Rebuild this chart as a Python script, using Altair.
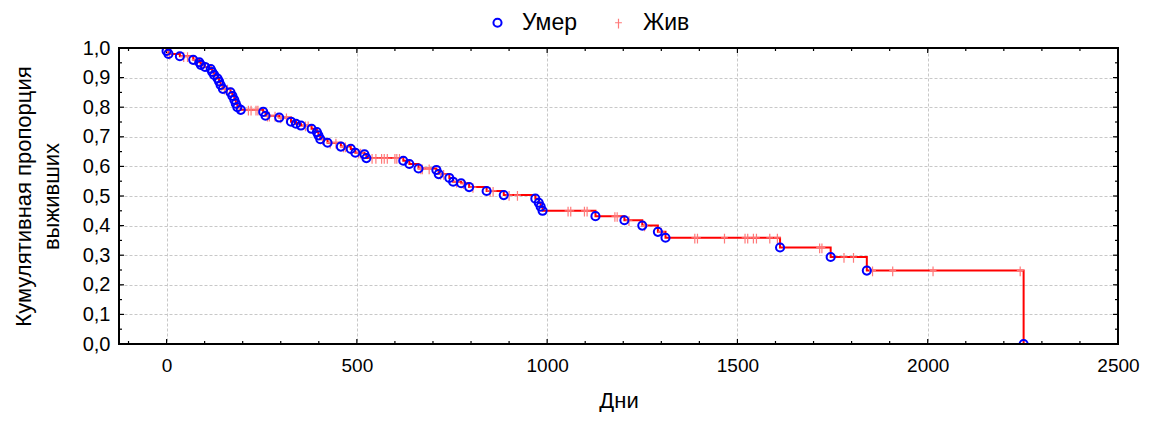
import altair as alt
import pandas as pd

# ---- data ----
death_days = [0, 5, 35, 70, 86, 90, 101, 116, 120, 125, 134, 138, 142, 148, 168, 173, 178,
              182, 186, 195, 254, 260, 296, 327, 340, 353, 381, 395, 399, 404, 423, 458, 484,
              496, 520, 525, 622, 638, 662, 709, 715, 743, 753, 774, 795, 841, 886, 969, 978,
              983, 988, 1127, 1203, 1250, 1291, 1311, 1612, 1745, 1840, 2252]
death_surv = [0.990, 0.980, 0.972, 0.960, 0.952, 0.943, 0.936, 0.929, 0.919, 0.909, 0.897,
              0.887, 0.875, 0.862, 0.850, 0.838, 0.825, 0.812, 0.800, 0.791, 0.784, 0.771,
              0.765, 0.751, 0.744, 0.738, 0.727, 0.716, 0.705, 0.692, 0.680, 0.667, 0.659,
              0.646, 0.641, 0.628, 0.619, 0.608, 0.593, 0.588, 0.574, 0.561, 0.548, 0.543,
              0.530, 0.517, 0.503, 0.491, 0.477, 0.464, 0.450, 0.432, 0.418, 0.400, 0.379,
              0.359, 0.326, 0.294, 0.248, 0.0]
censor_days = [3, 8, 45, 55, 75, 95, 110, 128, 145, 152, 160, 190, 215, 222, 235, 240, 265,
               270, 285, 300, 315, 365, 372, 410, 430, 445, 465, 470, 505, 510, 540, 550, 565,
               572, 580, 600, 605, 612, 668, 672, 690, 720, 728, 762, 780, 805, 850, 858, 900,
               922, 1055, 1062, 1098, 1105, 1178, 1184, 1215, 1256, 1300, 1388, 1395, 1466,
               1520, 1527, 1542, 1550, 1585, 1605, 1716, 1722, 1780, 1805, 1855, 1908, 2014,
               2243]

x_major = [0, 500, 1000, 1500, 2000, 2500]
x_minor = [-100, 100, 200, 300, 400, 600, 700, 800, 900, 1100, 1200, 1300, 1400, 1600, 1700,
           1800, 1900, 2100, 2200, 2300, 2400]
y_major = [0.0, 0.1, 0.2, 0.3, 0.4, 0.5, 0.6, 0.7, 0.8, 0.9, 1.0]
y_minor = [0.05, 0.15, 0.25, 0.35, 0.45, 0.55, 0.65, 0.75, 0.85, 0.95]

labels = ["Умер", "Жив"]

# ---- tables ----
curve = pd.DataFrame({"day": [0] + death_days, "surv": [1.0] + death_surv})
curve["idx"] = range(len(curve))

def surv_at(t):
    s = 1.0
    for d, v in zip(death_days, death_surv):
        if d <= t:
            s = v
    return s

pts = pd.DataFrame({
    "day": censor_days + death_days,
    "surv": [surv_at(t) for t in censor_days] + death_surv,
    "status": [labels[1]] * len(censor_days) + [labels[0]] * len(death_days),
})

W, H = 999, 296
FONT = "Liberation Sans"
xscale = alt.Scale(domain=[-125, 2500], nice=False, zero=False)
yscale = alt.Scale(domain=[0, 1], nice=False, zero=False)

xaxis = alt.Axis(
    values=x_major, format="d", grid=True, gridColor="#c8c8c8", gridDash=[3, 2], gridWidth=1,
    ticks=False, domain=False, labelFontSize=19, labelFont=FONT, labelColor="black",
    labelPadding=12, labelFlush=False, labelOverlap=False, title="Дни", titleFontSize=22,
    titleFont=FONT, titleFontWeight="normal", titleColor="black", titlePadding=15)
yaxis = alt.Axis(
    values=y_major, grid=True, gridColor="#c8c8c8", gridDash=[3, 2], gridWidth=1,
    ticks=False, domain=False, labelFontSize=20, labelFont=FONT, labelColor="black",
    labelPadding=9, labelFlush=False, labelOverlap=False,
    labelExpr="replace(format(datum.value, '.1f'), '.', ',')",
    title=["Кумулятивная пропорция", "выживших"], titleFontSize=22, titleFont=FONT,
    titleFontWeight="normal", titleColor="black", titlePadding=19, titleLineHeight=28)

X = alt.X("day:Q", scale=xscale, axis=xaxis)
Y = alt.Y("surv:Q", scale=yscale, axis=yaxis)

cross = "M-0.6,0L0.6,0M0,-0.7L0,1"

line = alt.Chart(curve).mark_line(color="#ff0000", strokeWidth=2, interpolate="step-after", clip=True).encode(
    x=X, y=Y, order="idx:Q",
)

points = alt.Chart(pts).mark_point(filled=False, clip=True, opacity=1).encode(
    x=X, y=Y,
    color=alt.Color("status:N", scale=alt.Scale(domain=labels, range=["#0000ff", "#ff7a7a"]),
                    legend=alt.Legend(orient="none", legendX=367, legendY=-37, direction="horizontal",
                                      title=None, labelFontSize=23, labelFont=FONT,
                                      labelColor="black", symbolStrokeWidth=2, symbolSize=50,
                                      symbolOpacity=1, columnPadding=30, labelOffset=13)),
    shape=alt.Shape("status:N", scale=alt.Scale(domain=labels, range=["circle", cross])),
    size=alt.Size("status:N", scale=alt.Scale(domain=labels, range=[66, 130]), legend=None),
    strokeWidth=alt.StrokeWidth("status:N", scale=alt.Scale(domain=labels, range=[2, 1.2]), legend=None),
)

xmaj = pd.DataFrame({"day": x_major[:-1]})
xmin = pd.DataFrame({"day": x_minor})
ymaj = pd.DataFrame({"surv": y_major[1:-1]})
ymin = pd.DataFrame({"surv": y_minor})

def xticks(df, L):
    b = alt.Chart(df).mark_rule(color="black", strokeWidth=1.2).encode(
        x=X, y=alt.value(H), y2=alt.value(H - L))
    t = alt.Chart(df).mark_rule(color="black", strokeWidth=1.2).encode(
        x=X, y=alt.value(0), y2=alt.value(L))
    return [b, t]

def yticks(df, L):
    l = alt.Chart(df).mark_rule(color="black", strokeWidth=1.2).encode(
        y=Y, x=alt.value(0), x2=alt.value(L))
    r = alt.Chart(df).mark_rule(color="black", strokeWidth=1.2).encode(
        y=Y, x=alt.value(W), x2=alt.value(W - L))
    return [l, r]

tick_layers = xticks(xmaj, 5) + xticks(xmin, 3) + yticks(ymaj, 5) + yticks(ymin, 3)

frame = alt.Chart(pd.DataFrame({"k": [0]})).mark_rect(
    fill=None, filled=False, stroke="black", strokeWidth=2).encode(
    x=alt.value(0), x2=alt.value(W), y=alt.value(0), y2=alt.value(H))

chart = alt.layer(line, *tick_layers, points, frame).properties(
    width=W, height=H,
    background="white",
    autosize=alt.AutoSizeParams(type="none"),
    padding={"left": 111, "top": 40, "right": 25, "bottom": 68},
).configure_view(stroke=None).configure_axis(labelOverlap=False)

chart.save("out.html", embed_options={"renderer": "svg", "actions": False})
